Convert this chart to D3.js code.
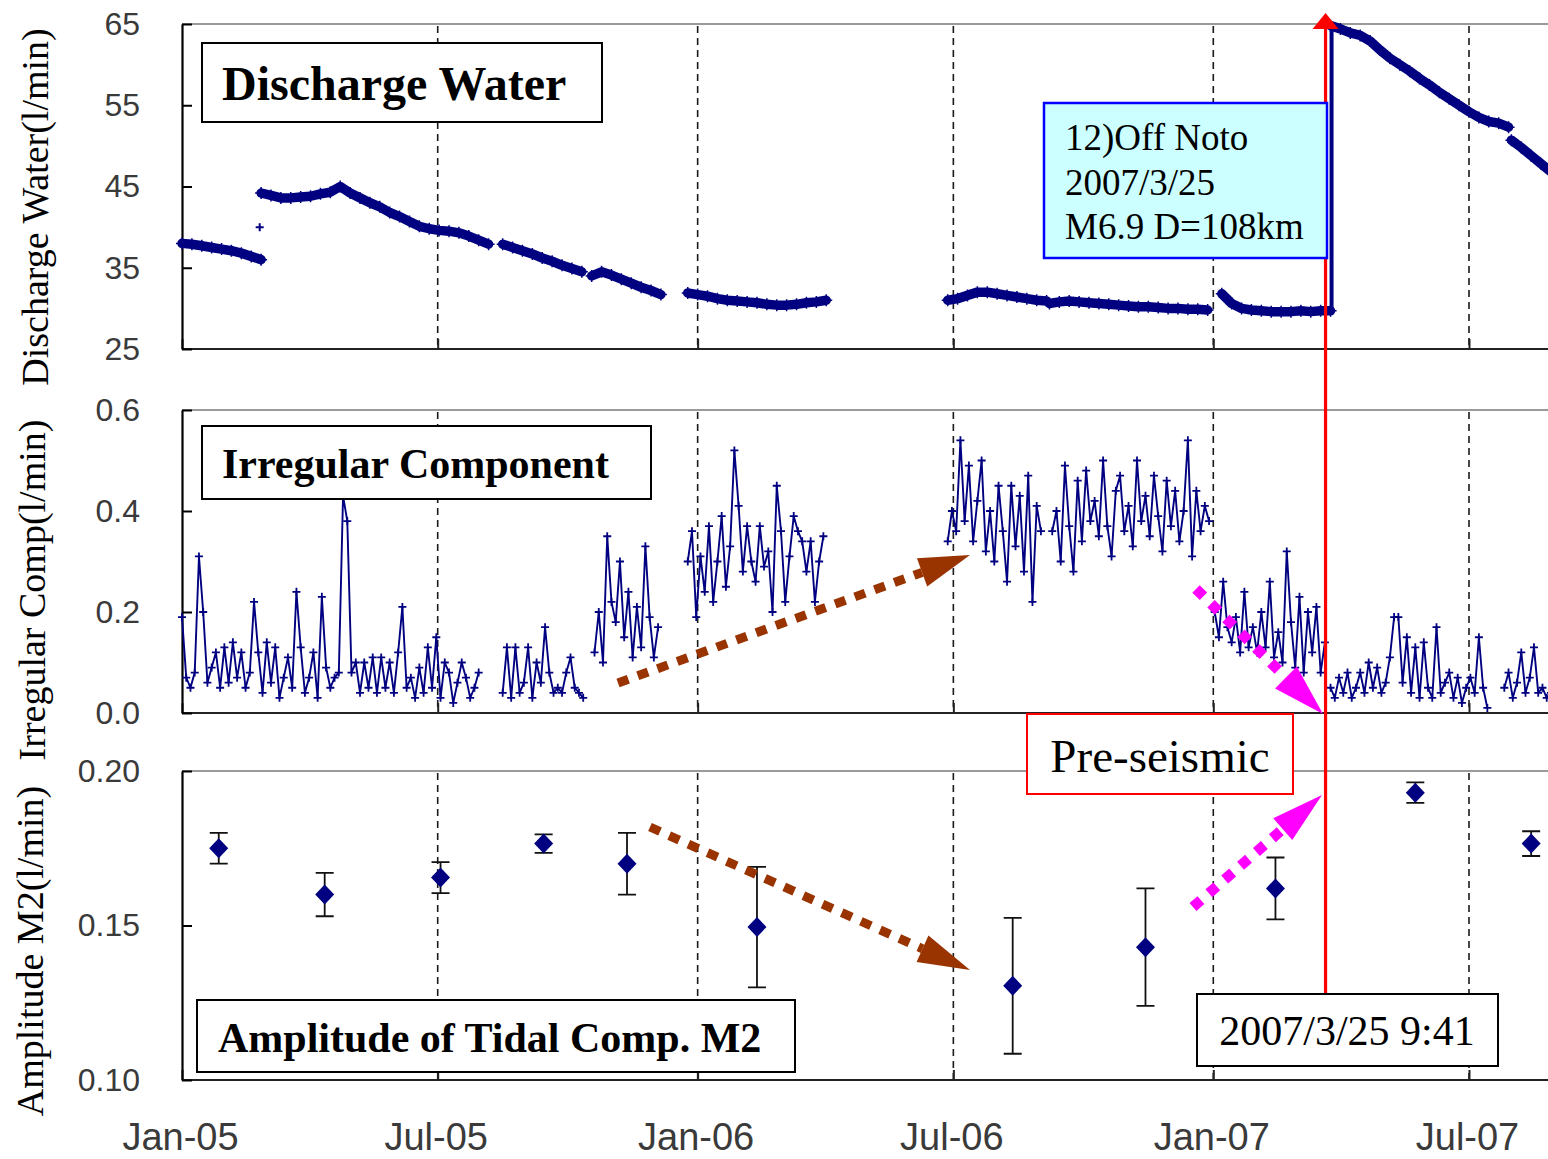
<!DOCTYPE html>
<html>
<head>
<meta charset="utf-8">
<script src="https://cdn.jsdelivr.net/npm/d3@7"></script>
<style>
  body { margin: 0; background: #fff; }
  svg { display: block; }
</style>
</head>
<body>
<svg id="chart" width="1548" height="1159"></svg>
<script>
// ---------------- data ----------------
const tickDates = ["2005-01-01", "2005-07-01", "2006-01-01", "2006-07-01", "2007-01-01", "2007-07-01"];
const quakeDate = "2007-03-25";

const dischargeTicks = [25, 35, 45, 55, 65];
const irregularTicks = [0, 0.2, 0.4, 0.6];
const tidalTicks = [0.10, 0.15, 0.20];

// Discharge water (l/min), weekly readings; one array per unbroken run
const dischargeStepDays = 7;
const dischargeStarts = ["2005-01-01", "2005-02-26", "2005-08-16", "2005-10-18", "2005-12-25",
                         "2006-06-27", "2006-09-07", "2007-01-07", "2007-03-25", "2007-07-31"];
const dischargeRuns = [
  [38.0, 37.9, 37.7, 37.5, 37.3, 37.1, 36.8, 36.4, 36.0],
  [44.2, 43.9, 43.6, 43.6, 43.7, 43.8, 44.1, 44.3, 45.0, 44.2, 43.6, 43.0, 42.5, 41.8, 41.3, 40.7,
   40.1, 39.8, 39.6, 39.5, 39.3, 38.9, 38.4, 37.9],
  [37.9, 37.5, 37.1, 36.7, 36.2, 35.8, 35.3, 34.9, 34.5],
  [34.0, 34.5, 34.1, 33.6, 33.1, 32.6, 32.2, 31.7],
  [31.9, 31.7, 31.5, 31.2, 31.0, 30.9, 30.8, 30.7, 30.5, 30.4, 30.4, 30.5, 30.7, 30.8, 31.0],
  [31.0, 31.2, 31.6, 32.0, 32.0, 31.8, 31.6, 31.4, 31.2, 31.0, 30.9],
  [30.6, 30.8, 30.9, 30.8, 30.7, 30.6, 30.5, 30.4, 30.3, 30.2, 30.2, 30.1, 30.0, 30.0, 29.9, 29.9, 29.8],
  [31.8, 30.6, 30.0, 29.8, 29.7, 29.6, 29.6, 29.6, 29.7, 29.6, 29.7, 29.7],
  [64.8, 64.4, 63.9, 63.6, 62.9, 61.8, 60.8, 60.0, 59.2, 58.3, 57.5, 56.6, 55.8, 55.0, 54.2, 53.5,
   53.0, 52.8, 52.3],
  [50.7, 49.8, 48.8, 47.8, 46.8, 45.8]
];
const dischargeOutlierDate = "2005-02-25";
const dischargeOutlierValue = 40.0;
const quakeJump = [29.7, 64.8];

// Irregular component (l/min), every 3 days; one array per unbroken run
const irregularStepDays = 3;
const irregularStarts = ["2005-01-01", "2005-08-16", "2005-10-20", "2005-12-25", "2006-06-27",
                         "2006-09-09", "2007-01-02", "2007-03-25", "2007-07-26"];
const irregularRuns = [
  [0.19, 0.07, 0.05, 0.08, 0.31, 0.20, 0.06, 0.09, 0.12, 0.05,
   0.13, 0.06, 0.14, 0.07, 0.12, 0.05, 0.08, 0.22, 0.12, 0.04,
   0.14, 0.06, 0.13, 0.03, 0.07, 0.11, 0.05, 0.24, 0.13, 0.04,
   0.07, 0.12, 0.03, 0.23, 0.09, 0.05, 0.07, 0.08, 0.43, 0.38,
   0.08, 0.10, 0.04, 0.10, 0.05, 0.11, 0.04, 0.11, 0.05, 0.10,
   0.04, 0.12, 0.21, 0.05, 0.07, 0.03, 0.09, 0.04, 0.13, 0.05,
   0.15, 0.03, 0.10, 0.08, 0.02, 0.06, 0.10, 0.07, 0.03, 0.05, 0.08],
  [0.04, 0.13, 0.03, 0.13, 0.04, 0.06, 0.13, 0.03, 0.10, 0.06,
   0.17, 0.08, 0.04, 0.05, 0.04, 0.08, 0.11, 0.05, 0.04, 0.03],
  [0.12, 0.20, 0.10, 0.35, 0.22, 0.18, 0.30, 0.15, 0.24, 0.11, 0.21, 0.13, 0.33, 0.19, 0.11, 0.17],
  [0.30, 0.36, 0.19, 0.31, 0.24, 0.37, 0.22, 0.30, 0.39, 0.25, 0.33, 0.52, 0.41, 0.28, 0.37, 0.30,
   0.26, 0.37, 0.29, 0.32, 0.20, 0.45, 0.36, 0.22, 0.31, 0.39, 0.36, 0.34, 0.28, 0.34, 0.22, 0.30, 0.35],
  [0.34, 0.40, 0.36, 0.54, 0.38, 0.49, 0.34, 0.42, 0.50, 0.32, 0.40, 0.30, 0.45, 0.36, 0.26, 0.45,
   0.33, 0.43, 0.28, 0.47, 0.22, 0.41, 0.36],
  [0.36, 0.40, 0.30, 0.49, 0.37, 0.28, 0.46, 0.34, 0.48, 0.38, 0.42, 0.35, 0.50, 0.37, 0.31, 0.44,
   0.47, 0.36, 0.41, 0.33, 0.50, 0.38, 0.43, 0.35, 0.47, 0.39, 0.32, 0.46, 0.37, 0.44, 0.34, 0.40,
   0.54, 0.31, 0.44, 0.36, 0.41, 0.38],
  [0.20, 0.15, 0.26, 0.17, 0.14, 0.19, 0.12, 0.24, 0.13, 0.17, 0.12, 0.20, 0.13, 0.26, 0.11, 0.16,
   0.10, 0.32, 0.18, 0.09, 0.23, 0.08, 0.20, 0.12, 0.21, 0.08, 0.14],
  [0.05, 0.03, 0.07, 0.04, 0.08, 0.03, 0.05, 0.08, 0.04, 0.10, 0.05, 0.09, 0.04, 0.06, 0.11, 0.19,
   0.19, 0.06, 0.15, 0.04, 0.13, 0.03, 0.14, 0.05, 0.03, 0.17, 0.04, 0.06, 0.08, 0.03, 0.07, 0.02,
   0.05, 0.07, 0.04, 0.15, 0.05, 0.01],
  [0.05, 0.08, 0.03, 0.06, 0.12, 0.04, 0.07, 0.13, 0.04, 0.05, 0.03, 0.04]
];

// Amplitude of the M2 tidal component (l/min) with its error
const tidalDates = ["2005-01-27", "2005-04-12", "2005-07-03", "2005-09-14", "2005-11-12", "2006-02-12",
                    "2006-08-12", "2006-11-14", "2007-02-14", "2007-05-24", "2007-08-14"];
const tidalValues = [0.175, 0.160, 0.1655, 0.1765, 0.170, 0.1495, 0.1305, 0.143, 0.162, 0.193, 0.1765];
const tidalErrors = [0.005, 0.007, 0.005, 0.003, 0.010, 0.0195, 0.022, 0.019, 0.010, 0.0033, 0.004];

// ---------------- drawing ----------------
const W = 1548, H = 1159;
const NAVY = "#000080";
const SERIF = "'Liberation Serif','Times New Roman',serif";
const SANS = "'Liberation Sans',Arial,sans-serif";
const parse = d3.utcParse("%Y-%m-%d");
const svg = d3.select("#chart");
svg.append("rect").attr("width", W).attr("height", H).attr("fill", "#fff");

const x = d3.scaleUtc()
  .domain([parse("2005-01-01"), parse("2007-07-01")])
  .range([182, 1469]);
const X0 = 182;
const tickDateObjs = tickDates.map(parse);

function frame(p, showLabels) {
  const y = d3.scaleLinear().domain(p.domain).range([p.bottom, p.top]);
  const g = svg.append("g");

  // dashed half-year guides
  g.selectAll("line.grid").data(tickDateObjs.slice(1)).join("line")
    .attr("x1", d => x(d)).attr("x2", d => x(d))
    .attr("y1", p.top + 2).attr("y2", p.bottom)
    .attr("stroke", "#1a1a1a").attr("stroke-width", 1.6).attr("stroke-dasharray", "7,5");

  // top border
  g.append("line").attr("x1", X0).attr("x2", W).attr("y1", p.top).attr("y2", p.top)
    .attr("stroke", "#9a9a9a").attr("stroke-width", 2.2);

  // bottom axis
  const xa = g.append("g").attr("transform", `translate(0,${p.bottom})`)
    .call(d3.axisBottom(x).tickValues(tickDateObjs).tickSizeInner(-10).tickSizeOuter(0)
      .tickPadding(43).tickFormat(showLabels ? d3.utcFormat("%b-%y") : () => ""));
  xa.select(".domain").remove();
  xa.selectAll("line").attr("stroke", "#222").attr("stroke-width", 2);
  xa.selectAll("text").attr("font-family", SANS).attr("font-size", 38).attr("fill", "#3a3a3a")
    .attr("dx", -2);
  g.append("line").attr("x1", X0).attr("x2", W).attr("y1", p.bottom).attr("y2", p.bottom)
    .attr("stroke", "#222").attr("stroke-width", 2.2);

  // left axis
  const ya = g.append("g").attr("transform", `translate(${X0},0)`)
    .call(d3.axisLeft(y).tickValues(p.ticks).tickFormat(p.fmt).tickSizeInner(-10).tickSizeOuter(0).tickPadding(42));
  ya.select(".domain").attr("stroke", "#000").attr("stroke-width", 2.2);
  ya.selectAll("line").attr("stroke", "#000").attr("stroke-width", 2);
  ya.selectAll("text").attr("font-family", SANS).attr("font-size", 32).attr("fill", "#3a3a3a");

  // axis title
  svg.append("text")
    .attr("transform", `translate(${p.titleX},${p.titleY}) rotate(-90)`)
    .attr("text-anchor", "middle").attr("font-family", SERIF).attr("font-size", 38)
    .attr("fill", "#000").text(p.title);
  return y;
}

const yD = frame({ top: 24, bottom: 349, domain: [25, 65], ticks: dischargeTicks, fmt: d3.format("d"),
  title: "Discharge Water(l/min)", titleX: 48, titleY: 207 }, false);
const yI = frame({ top: 410, bottom: 713, domain: [0, 0.6], ticks: irregularTicks, fmt: d3.format(".1f"),
  title: "Irregular Comp(l/min)", titleX: 45, titleY: 590 }, false);
const yT = frame({ top: 771, bottom: 1080, domain: [0.10, 0.20], ticks: tidalTicks, fmt: d3.format(".2f"),
  title: "Amplitude M2(l/min)", titleX: 43, titleY: 951 }, true);

function runPoints(startStr, step, vals) {
  const s = parse(startStr);
  return vals.map((v, k) => ({ date: d3.utcDay.offset(s, k * step), value: v }));
}
function plus(g, cx, cy, r, w) {
  g.append("path").attr("d", `M${cx - r},${cy}H${cx + r}M${cx},${cy - r}V${cy + r}`)
    .attr("stroke", NAVY).attr("stroke-width", w).attr("fill", "none");
}

// ---- discharge water: dense readings drawn as a thick band ----
const gD = svg.append("g");
const lineD = d3.line().x(d => x(d.date)).y(d => yD(d.value));
dischargeRuns.forEach((vals, i) => {
  const pts = runPoints(dischargeStarts[i], dischargeStepDays, vals);
  gD.append("path").attr("d", lineD(pts))
    .attr("fill", "none").attr("stroke", NAVY).attr("stroke-width", 9.5)
    .attr("stroke-linejoin", "round").attr("stroke-linecap", "round");
  pts.forEach(d => plus(gD, x(d.date), yD(d.value), 6, 1.5));
});
const xq = x(parse(quakeDate));
gD.append("line").attr("x1", xq + 1).attr("x2", xq + 1)
  .attr("y1", yD(quakeJump[0])).attr("y2", yD(quakeJump[1]))
  .attr("stroke", NAVY).attr("stroke-width", 4);
plus(gD, x(parse(dischargeOutlierDate)), yD(dischargeOutlierValue), 4, 2);

// ---- irregular component ----
const gI = svg.append("g");
const lineI = d3.line().x(d => x(d.date)).y(d => yI(d.value));
irregularRuns.forEach((vals, i) => {
  const pts = runPoints(irregularStarts[i], irregularStepDays, vals);
  gI.append("path").attr("d", lineI(pts)).attr("fill", "none")
    .attr("stroke", NAVY).attr("stroke-width", 1.9).attr("stroke-linejoin", "round");
  pts.forEach(d => plus(gI, x(d.date), yI(d.value), 4, 1.8));
});

// ---- tidal M2 amplitude ----
const gT = svg.append("g");
tidalDates.forEach((ds, i) => {
  const cx = x(parse(ds));
  const hi = yT(tidalValues[i] + tidalErrors[i]);
  const lo = yT(tidalValues[i] - tidalErrors[i]);
  const cy = yT(tidalValues[i]);
  gT.append("path")
    .attr("d", `M${cx},${hi}V${lo}M${cx - 9},${hi}H${cx + 9}M${cx - 9},${lo}H${cx + 9}`)
    .attr("stroke", "#111").attr("stroke-width", 1.8).attr("fill", "none");
  gT.append("path").attr("d", `M${cx},${cy - 10}L${cx + 9.5},${cy}L${cx},${cy + 10}L${cx - 9.5},${cy}Z`)
    .attr("fill", NAVY);
});

// ---------------- annotations ----------------
const gA = svg.append("g");

function arrow(x1, y1, x2, y2, color, headLen, half, width, dash) {
  const dx = x2 - x1, dy = y2 - y1, len = Math.hypot(dx, dy);
  const ux = dx / len, uy = dy / len, nx = -uy, ny = ux;
  const bx = x2 - ux * headLen, by = y2 - uy * headLen;
  gA.append("line").attr("x1", x1).attr("y1", y1).attr("x2", bx).attr("y2", by)
    .attr("stroke", color).attr("stroke-width", width).attr("stroke-dasharray", dash);
  gA.append("path")
    .attr("d", `M${x2},${y2}L${bx + nx * half},${by + ny * half}L${bx - nx * half},${by - ny * half}Z`)
    .attr("fill", color);
}

// earthquake marker
gA.append("line").attr("x1", xq - 5).attr("x2", xq - 5).attr("y1", 28).attr("y2", 994)
  .attr("stroke", "#ff0000").attr("stroke-width", 3.2);
gA.append("path").attr("d", `M${xq - 5},13L${xq - 18},29L${xq + 8},29Z`).attr("fill", "#ff0000");

// trend arrows
arrow(618, 683, 970, 555, "#993300", 51, 15, 9, "11,10");
arrow(650, 827, 970, 970, "#993300", 52, 14.5, 9, "11,10");
arrow(1196, 589, 1323, 714, "#ff00ff", 52, 15.5, 10.5, "10.5,10.5");
arrow(1193, 907, 1322, 795, "#ff00ff", 52, 14.5, 10.5, "10.5,10.5");

function box(rx, ry, rw, rh, stroke, fill, sw) {
  gA.append("rect").attr("x", rx).attr("y", ry).attr("width", rw).attr("height", rh)
    .attr("fill", fill).attr("stroke", stroke).attr("stroke-width", sw);
}
function label(tx, ty, str, size, weight, anchor) {
  gA.append("text").attr("x", tx).attr("y", ty).attr("font-family", SERIF)
    .attr("font-size", size).attr("font-weight", weight).attr("text-anchor", anchor || "start")
    .attr("fill", "#000").text(str);
}

// panel titles
box(202, 43, 400, 79, "#000", "#fff", 2);
label(222, 100, "Discharge Water", 48, "bold");
box(202, 426, 449, 73, "#000", "#fff", 2);
label(222, 478, "Irregular Component", 42, "bold");
box(197, 1000, 598, 72, "#000", "#fff", 2);
label(218, 1052, "Amplitude of Tidal Comp. M2", 42, "bold");

// earthquake information
box(1044, 103, 283, 155, "#0000ff", "#ccffff", 2.5);
label(1065, 150, "12)Off Noto", 37, "normal");
label(1065, 195, "2007/3/25", 37, "normal");
label(1065, 239, "M6.9 D=108km", 37, "normal");

box(1027, 714, 266, 80, "#ff0000", "#fff", 2);
label(1160, 772, "Pre-seismic", 47, "normal", "middle");

box(1197, 994, 301, 72, "#000", "#fff", 2);
label(1347, 1045, "2007/3/25 9:41", 42, "normal", "middle");
</script>
</body>
</html>
